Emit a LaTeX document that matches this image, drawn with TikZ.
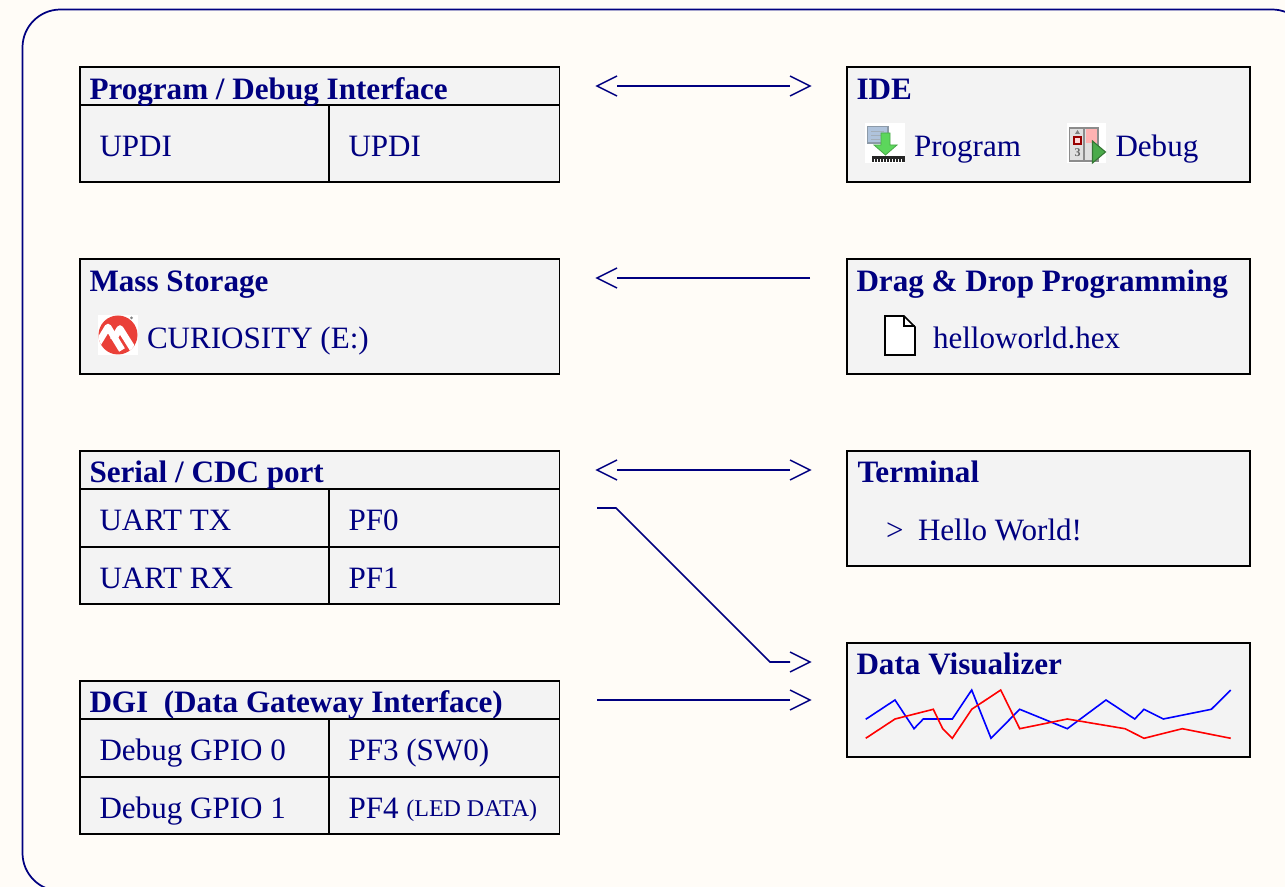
\documentclass[tikz,border=0pt]{standalone}
\usepackage{fontspec}
\setmainfont{Liberation Serif}
\usetikzlibrary{arrows.meta}
\definecolor{navy}{HTML}{000080}
\definecolor{pagebg}{HTML}{FFFCF7}
\definecolor{boxfill}{HTML}{F3F3F3}
\definecolor{mchip}{HTML}{EA4038}
\definecolor{arrowg}{HTML}{5CD65C}
\definecolor{arrowd}{HTML}{4AA84A}
\definecolor{winfill}{HTML}{AFC3DC}
\definecolor{wingray}{HTML}{8C9AA8}
\pgfdeclarearrow{
  name=Chev,
  setup code={\pgfarrowssettipend{15pt}\pgfarrowssetlineend{0pt}\pgfarrowssetbackend{0pt}\pgfarrowssetvisualbackend{0pt}},
  drawing code={\pgfsetdash{}{0pt}\pgfsetmiterjoin
    \pgfpathmoveto{\pgfqpoint{0pt}{7.5pt}}\pgfpathlineto{\pgfqpoint{15pt}{0pt}}\pgfpathlineto{\pgfqpoint{0pt}{-7.5pt}}\pgfusepathqstroke},
  defaults={}
}
\newcommand{\ptbox}[5]{% name, x0,y0,x1,y1
  \pgfmathsetmacro{\bw}{(#4-#2)*0.75}\pgfmathsetmacro{\bh}{(#5-#3)*0.75}
  \node[cellbox,minimum width=\bw pt,minimum height=\bh pt] (#1) at (#2,#3) {};}
\tikzset{
  x=0.75pt,y=-0.75pt,
  cellbox/.style={draw=black,fill=boxfill,line width=1.1pt,anchor=north west,inner sep=0pt,outer sep=0pt},
  hdr/.style={anchor=base west,inner sep=0pt,outer sep=0pt,text=navy,font=\fontsize{23.35pt}{26pt}\selectfont\bfseries},
  txt/.style={anchor=base west,inner sep=0pt,outer sep=0pt,text=navy,font=\fontsize{23.3pt}{26pt}\selectfont},
  link/.style={draw=navy,line width=1.15pt,line join=miter},
  both/.style={link,Chev-Chev},
  to/.style={link,-Chev},
}
\begin{document}
\begin{tikzpicture}
\useasboundingbox (0,0) rectangle (1285,887);
\fill[pagebg] (0,0) rectangle (1285,887);
\begin{scope}
\clip (0,0) rectangle (1285,887);
\draw[navy,line width=1.3pt,rounded corners=28.5pt] (22.5,9.5) rectangle (1310,891);
\end{scope}
% Program / Debug
\ptbox{pdi}{80}{67}{559.5}{182}
\ptbox{pdiH}{80}{67}{559.5}{105}
\ptbox{pdiA}{80}{105}{329}{182}
\ptbox{pdiB}{329}{105}{559.5}{182}
\node[hdr] (t1) at (89.5,100) {Program / Debug Interface};
\node[txt] (t2) at (99.5,157) {UPDI};
\node[txt] (t3) at (348.5,157) {UPDI};
% Mass storage
\ptbox{ms}{80}{259}{559.5}{374}
\node[hdr] (t4) at (89.5,292) {Mass Storage};
\node[txt] (t5) at (147,349) {CURIOSITY (E:)};
% Serial
\ptbox{ser}{80}{451}{559.5}{604}
\ptbox{serH}{80}{451}{559.5}{489}
\ptbox{serA}{80}{489}{329}{547}
\ptbox{serB}{329}{489}{559.5}{547}
\ptbox{serC}{80}{547}{329}{604}
\ptbox{serD}{329}{547}{559.5}{604}
\node[hdr] (t6) at (89.5,483) {Serial / CDC port};
\node[txt] (t7) at (99.5,531) {UART TX};
\node[txt] (t8) at (348.5,531) {PF0};
\node[txt] (t9) at (99.5,588) {UART RX};
\node[txt] (t10) at (348.5,588) {PF1};
% DGI
\ptbox{dgi}{80}{681}{559.5}{834}
\ptbox{dgiH}{80}{681}{559.5}{719}
\ptbox{dgiA}{80}{719}{329}{777}
\ptbox{dgiB}{329}{719}{559.5}{777}
\ptbox{dgiC}{80}{777}{329}{834}
\ptbox{dgiD}{329}{777}{559.5}{834}
\node[hdr] (t11) at (89.5,712) {DGI\ \ (Data Gateway Interface)};
\node[txt] (t12) at (99.5,760) {Debug GPIO 0};
\node[txt] (t13) at (348.5,760) {PF3 (SW0)};
\node[txt] (t14) at (99.5,818) {Debug GPIO 1};
\node[txt] (t15) at (348.5,818) {PF4 \raisebox{0.9pt}{\fontsize{18pt}{20pt}\selectfont (LED DATA)}};
% Right boxes
\ptbox{ide}{847}{67}{1250}{182}
\node[hdr] (t16) at (856.5,100) {IDE};
\node[txt] (t17) at (914,157) {Program};
\node[txt] (t18) at (1115.5,157) {Debug};
\ptbox{dd}{847}{259}{1250}{374}
\node[hdr] (t19) at (856.5,292) {Drag \& Drop Programming};
\node[txt] (t20) at (933,349) {helloworld.hex};
\ptbox{term}{847}{451}{1250}{566}
\node[hdr] (t21) at (857.5,483) {Terminal};
\node[txt] (t22) at (886,541) {>};
\node[txt] (t23) at (918,541) {Hello World!};
\ptbox{dv}{847}{643}{1250}{757}
\node[hdr] (t24) at (856.5,674) {Data Visualizer};
% chart
\draw[blue,line width=1.2pt] (865.7,719.3)--(895,700)--(914,728.7)--(923.3,719)--(952.3,719)--(971.7,690)--(991,738.3)--(1019.7,709.3)--(1067.3,728.7)--(1106,700)--(1134.7,719)--(1144,709.3)--(1163.3,719)--(1211.3,709.3)--(1230.7,690);
\draw[red,line width=1.2pt] (865.7,738.3)--(895,719)--(933.3,709.3)--(942.7,728.7)--(952.3,738.3)--(971.7,709.3)--(1000.7,690)--(1019.7,728.7)--(1067.3,719)--(1125,728.7)--(1144,738.3)--(1182.3,728.7)--(1230.7,738.3);
% file icon
\draw[black,fill=white,line width=1.2pt,line join=miter] (885,316)--(904,316)--(915,327)--(915,355)--(885,355)--cycle;
\draw[black,line width=1.2pt] (904,316)--(904,326)--(915,326);
% Microchip logo
\fill[white] (98,315) rectangle (138,355);
\begin{scope}
\clip (118,335) circle[radius=19.5];
\fill[mchip] (98,315) rectangle (138,355);
\draw[white,line width=5pt,line join=round] (97,345)--(108,327)--(122,350);
\draw[white,line width=5pt,line join=round] (113,340)--(120,328.5)--(136,354);
\end{scope}
\fill[gray] (131.5,318) circle[radius=1.5];
% Program icon
\fill[white] (865,123) rectangle (905,163);
\fill[winfill,draw=wingray,line width=1pt] (867.5,126.5) rectangle (888,143);
\draw[wingray!80,line width=0.7pt] (871,131)--(884,131) (871,135)--(884,135) (871,139)--(880,139);
\fill[arrowg,draw=arrowd,line width=0.6pt] (881,133)--(890,133)--(890,145)--(897,145)--(885.5,155)--(874,145)--(881,145)--cycle;
\fill[black!85] (872,156) rectangle (905,162);
\foreach \tx in {874,877,...,903}{\fill[white] (\tx,159.5) rectangle ++(1,2.5);}
% Debug icon
\fill[white] (1067,123) rectangle (1106,163);
\fill[black!12,draw=black!45,line width=0.9pt] (1069.5,128) rectangle (1098,161);
\draw[black!45,line width=0.9pt] (1084,128)--(1084,161);
\fill[red!30] (1086,129) rectangle (1097,143);
\fill[red!15,draw=red!60!black,line width=1pt] (1074,137) rectangle (1081,144);
\fill[black!50] (1077.5,130)--(1080,134)--(1075,134)--cycle;
\node[inner sep=0pt,text=black!60,font=\fontsize{9pt}{10pt}\selectfont\bfseries] (dbg3) at (1077.5,153) {3};
\fill[arrowg!80!black,draw=arrowd!70!black,line width=0.8pt] (1092.5,141)--(1105.5,152)--(1092.5,163)--cycle;
% connectors
\coordinate (a1) at (597,86); \coordinate (b1) at (810,86);
\coordinate (a2) at (597,278); \coordinate (b2) at (810,278);
\coordinate (a3) at (597,470); \coordinate (b3) at (810,470);
\coordinate (a4) at (597,508); \coordinate (k1) at (616,508); \coordinate (k2) at (770,662); \coordinate (b4) at (810,662);
\coordinate (a5) at (597,700); \coordinate (b5) at (810,700);
\draw[both] (a1) -- (b1);
\draw[to] (b2) -- (a2);
\draw[both] (a3) -- (b3);
\draw[to] (a4) -- (k1) -- (k2) -- (b4);
\draw[to] (a5) -- (b5);
\end{tikzpicture}
\end{document}
